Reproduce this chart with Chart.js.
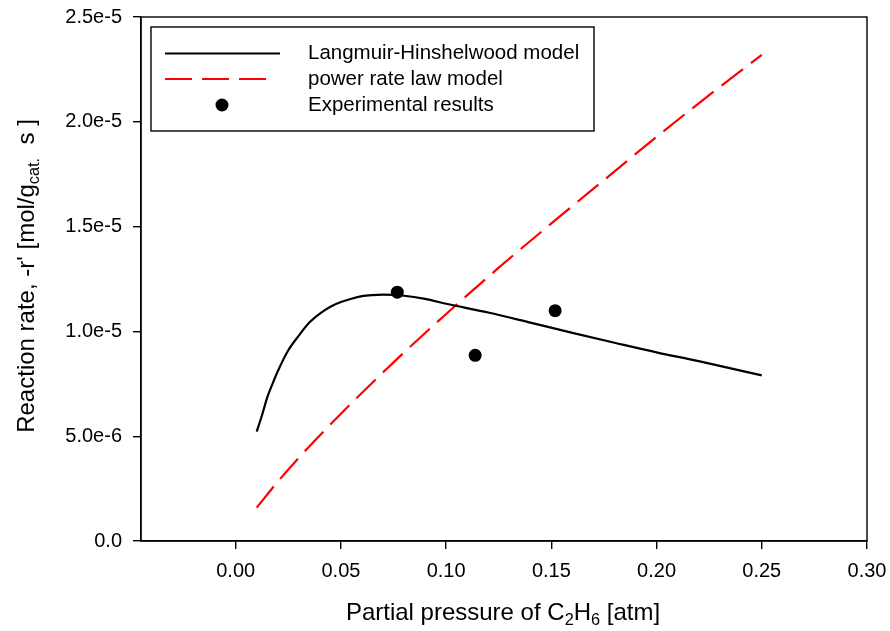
<!DOCTYPE html>
<html>
<head>
<meta charset="utf-8">
<script src="https://cdn.jsdelivr.net/npm/chart.js@4.4.0/dist/chart.umd.min.js"></script>
<style>
  html, body { margin: 0; padding: 0; background: #fff; }
  #wrap { width: 890px; height: 631px; position: relative; }
</style>
</head>
<body>
<div id="wrap"><canvas id="c" width="890" height="631"></canvas></div>
<script>
// ---- data ----
const lhPressure = [0.01, 0.0125, 0.015, 0.0175, 0.02, 0.025, 0.03, 0.035, 0.04, 0.045, 0.05, 0.055, 0.06, 0.065, 0.07, 0.08, 0.09, 0.10, 0.12, 0.14, 0.16, 0.18, 0.20, 0.22, 0.25];
const lhRate = [5.22e-6, 6.0e-6, 6.85e-6, 7.5e-6, 8.1e-6, 9.1e-6, 9.8e-6, 10.42e-6, 10.85e-6, 11.18e-6, 11.4e-6, 11.56e-6, 11.68e-6, 11.73e-6, 11.75e-6, 11.7e-6, 11.55e-6, 11.32e-6, 10.9e-6, 10.42e-6, 9.93e-6, 9.46e-6, 9.0e-6, 8.58e-6, 7.9e-6];
const plPressure = [0.01, 0.02, 0.03, 0.05, 0.075, 0.10, 0.125, 0.15, 0.175, 0.20, 0.225, 0.25];
const plRate = [1.59e-6, 2.83e-6, 3.97e-6, 6.07e-6, 8.52e-6, 10.83e-6, 13.04e-6, 15.15e-6, 17.22e-6, 19.28e-6, 21.27e-6, 23.19e-6];
const expPressure = [0.0768, 0.1138, 0.1518];
const expRate = [11.87e-6, 8.86e-6, 10.99e-6];
const xTicks = [0.00, 0.05, 0.10, 0.15, 0.20, 0.25, 0.30];
const yTicks = [0, 5e-6, 1e-5, 1.5e-5, 2e-5, 2.5e-5];
const yTickLabels = ["0.0", "5.0e-6", "1.0e-5", "1.5e-5", "2.0e-5", "2.5e-5"];
const seriesNames = ["Langmuir-Hinshelwood model", "power rate law model", "Experimental results"];

const FONT = "'Liberation Sans', Arial, sans-serif";

function pts(xs, ys) { return xs.map((x, i) => ({ x: x, y: ys[i] })); }

function measureRich(ctx, segs, size) {
  let w = 0;
  segs.forEach(s => {
    ctx.font = (s.sub ? size * 0.68 : size) + "px " + FONT;
    w += ctx.measureText(s.t).width;
  });
  return w;
}
function paintRich(ctx, segs, size, x, y) {
  let cx = x;
  segs.forEach(s => {
    const fs = s.sub ? size * 0.68 : size;
    ctx.font = fs + "px " + FONT;
    ctx.fillText(s.t, cx, s.sub ? y + size * 0.22 : y);
    cx += ctx.measureText(s.t).width;
  });
}

const decor = {
  id: 'decor',
  afterDraw(chart) {
    const ctx = chart.ctx;
    const a = chart.chartArea;
    ctx.save();
    ctx.strokeStyle = '#000';
    ctx.lineWidth = 1.4;
    ctx.strokeRect(a.left, a.top, a.right - a.left, a.bottom - a.top);

    // legend
    const lx = 151, ly = 27, lw = 443, lh = 104;
    ctx.fillStyle = '#fff';
    ctx.fillRect(lx, ly, lw, lh);
    ctx.lineWidth = 1.4;
    ctx.strokeStyle = '#000';
    ctx.strokeRect(lx, ly, lw, lh);
    const rows = [53.5, 79, 105];
    ctx.lineWidth = 2.2;
    ctx.beginPath(); ctx.moveTo(165, rows[0]); ctx.lineTo(280, rows[0]); ctx.stroke();
    ctx.strokeStyle = '#ff0000';
    ctx.setLineDash([27, 10]);
    ctx.beginPath(); ctx.moveTo(165, rows[1]); ctx.lineTo(269, rows[1]); ctx.stroke();
    ctx.setLineDash([]);
    ctx.fillStyle = '#000';
    ctx.beginPath(); ctx.arc(222, rows[2], 6.5, 0, Math.PI * 2); ctx.fill();
    ctx.font = "20.5px " + FONT;
    ctx.textBaseline = 'middle';
    ctx.textAlign = 'left';
    seriesNames.forEach((n, i) => ctx.fillText(n, 308, rows[i]));

    // x title
    ctx.textBaseline = 'alphabetic';
    const xs = [{t: "Partial pressure of C"}, {t: "2", sub: true}, {t: "H"}, {t: "6", sub: true}, {t: " [atm]"}];
    const xw = measureRich(ctx, xs, 24);
    paintRich(ctx, xs, 24, 503 - xw / 2, 620);

    // y title
    const ys = [{t: "Reaction rate, -r' [mol/g"}, {t: "cat.", sub: true}, {t: "  s ]"}];
    const yw = measureRich(ctx, ys, 24);
    ctx.translate(34, 276);
    ctx.rotate(-Math.PI / 2);
    paintRich(ctx, ys, 24, -yw / 2, 0);
    ctx.restore();
  }
};

new Chart(document.getElementById('c'), {
  type: 'scatter',
  data: {
    datasets: [
      { label: seriesNames[0], data: pts(lhPressure, lhRate), showLine: true, borderColor: '#000', borderWidth: 2.2, pointRadius: 0, cubicInterpolationMode: 'monotone', fill: false },
      { label: seriesNames[1], data: pts(plPressure, plRate), showLine: true, borderColor: '#ff0000', borderWidth: 2.2, borderDash: [27, 10], pointRadius: 0, cubicInterpolationMode: 'monotone', fill: false },
      { label: seriesNames[2], data: pts(expPressure, expRate), showLine: false, pointRadius: 6.5, pointBackgroundColor: '#000', pointBorderColor: '#000', pointBorderWidth: 0 }
    ]
  },
  options: {
    responsive: false,
    animation: false,
    layout: { padding: { top: 17, right: 23, left: 0, bottom: 0 } },
    plugins: { legend: { display: false }, tooltip: { enabled: false } },
    scales: {
      x: {
        type: 'linear', min: -0.045, max: 0.30,
        afterBuildTicks: s => { s.ticks = xTicks.map(v => ({ value: v })); },
        afterFit: s => { s.height = 90; s.paddingLeft = 0; s.paddingRight = 0; },
        grid: { drawOnChartArea: false, drawTicks: true, tickLength: 8, color: '#000', lineWidth: 1.4 },
        border: { display: true, color: '#000', width: 1.4 },
        ticks: { color: '#000', padding: 10, maxRotation: 0, font: { family: FONT, size: 20 }, callback: v => v.toFixed(2) }
      },
      y: {
        type: 'linear', min: 0, max: 2.5e-5,
        afterBuildTicks: s => { s.ticks = yTicks.map(v => ({ value: v })); },
        afterFit: s => { s.width = 141; s.paddingTop = 0; s.paddingBottom = 0; },
        grid: { drawOnChartArea: false, drawTicks: true, tickLength: 8, color: '#000', lineWidth: 1.4 },
        border: { display: true, color: '#000', width: 1.4 },
        ticks: { color: '#000', padding: 11, font: { family: FONT, size: 20 }, callback: (v) => { const i = yTicks.findIndex(t => Math.abs(t - v) < 1e-9); return i >= 0 ? yTickLabels[i] : ''; } }
      }
    }
  },
  plugins: [decor]
});
</script>
</body>
</html>
